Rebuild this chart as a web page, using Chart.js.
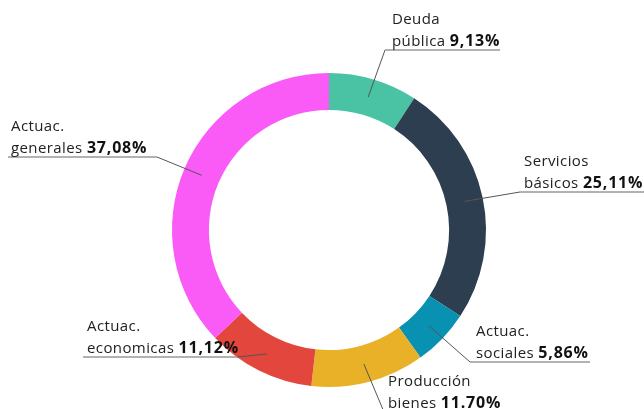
<!DOCTYPE html>
<html>
<head>
<meta charset="utf-8">
<style>
  html, body { margin: 0; padding: 0; background: #fff; }
  #wrap { width: 644px; height: 409px; position: relative; }
</style>
</head>
<body>
<div id="wrap"><canvas id="chart"></canvas></div>
<script src="https://cdn.jsdelivr.net/npm/chart.js"></script>
<script>
  // data
  const labelTop = ["Deuda", "Servicios", "Actuac.", "Producción", "Actuac.", "Actuac."];
  const labelBottom = ["pública", "básicos", "sociales", "bienes", "economicas", "generales"];
  const shares = [9.13, 25.11, 5.86, 11.70, 11.12, 37.08];
  const shareLabels = ["9,13%", "25,11%", "5,86%", "11.70%", "11,12%", "37,08%"];
  const colors = ["#49c3a3", "#2c3e50", "#0891b0", "#e9b128", "#e2463c", "#fa5af6"];

  // where each callout text sits (text x, underline y, underline from/to)
  const callouts = [
    { x: 392, y: 50, x1: 385, x2: 500, side: "right" },
    { x: 524, y: 192, x1: 520, x2: 644, side: "right" },
    { x: 476, y: 362, x1: 470, x2: 590, side: "right" },
    { x: 388, y: 412, x1: 384, x2: 500, side: "right" },
    { x: 87, y: 357, x1: 83, x2: 237, side: "left" },
    { x: 11, y: 157, x1: 8, x2: 157, side: "left" }
  ];

  const calloutPlugin = {
    id: "callouts",
    afterDraw(chart) {
      const ctx = chart.ctx;
      const arcs = chart.getDatasetMeta(0).data;
      ctx.save();
      arcs.forEach((arc, i) => {
        const c = callouts[i];
        const p = arc.tooltipPosition();
        const sx = c.side === "right" ? c.x1 : c.x2;

        // leader line
        ctx.strokeStyle = "#555";
        ctx.lineWidth = 1;
        ctx.beginPath();
        ctx.moveTo(sx, c.y);
        ctx.lineTo(p.x, p.y);
        ctx.stroke();

        // underline
        ctx.strokeStyle = "#999";
        ctx.lineWidth = 1.5;
        ctx.beginPath();
        ctx.moveTo(c.x1, c.y);
        ctx.lineTo(c.x2, c.y);
        ctx.stroke();

        // text
        ctx.fillStyle = "#222";
        ctx.textBaseline = "alphabetic";
        ctx.textAlign = "left";
        ctx.font = "15px 'Open Sans'";
        ctx.letterSpacing = "0.4px";
        ctx.fillText(labelTop[i], c.x, c.y - 26);
        ctx.fillText(labelBottom[i], c.x, c.y - 4);
        const w = ctx.measureText(labelBottom[i] + " ").width;
        ctx.fillStyle = "#111";
        ctx.font = "bold 16px 'Open Sans'";
        ctx.letterSpacing = "0.8px";
        ctx.fillText(shareLabels[i], c.x + w, c.y - 4);
        ctx.letterSpacing = "0px";
      });
      ctx.restore();
    }
  };

  new Chart(document.getElementById("chart"), {
    type: "doughnut",
    data: {
      labels: labelBottom,
      datasets: [{
        data: shares,
        backgroundColor: colors,
        borderWidth: 0
      }]
    },
    options: {
      responsive: true,
      maintainAspectRatio: false,
      animation: false,
      cutout: "76.5%",
      layout: { padding: { top: 73, bottom: 22, left: 172, right: 158 } },
      plugins: {
        legend: { display: false },
        tooltip: { enabled: false }
      }
    },
    plugins: [calloutPlugin]
  });
</script>
</body>
</html>
